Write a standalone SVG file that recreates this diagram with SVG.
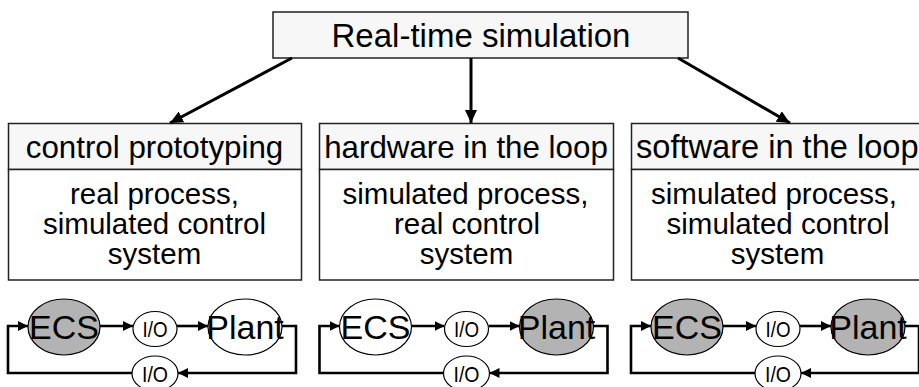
<svg xmlns="http://www.w3.org/2000/svg" width="919" height="387" viewBox="0 0 919 387">
  <defs>
    <style>
      text { font-family: "Liberation Sans", Arial, sans-serif; fill: #000; text-anchor: middle; }
      .box { fill: #ffffff; stroke: #222; stroke-width: 1.5; }
      .head { fill: #f7f7f7; stroke: #222; stroke-width: 1.5; }
      .title { font-size: 33px; }
      .htxt { font-size: 31.3px; }
      .btxt { font-size: 29.5px; }
      .big { font-size: 34px; }
      .io { font-size: 22.5px; }
      .ell { stroke: #000; stroke-width: 1.2; }
      .on { fill: #b3b3b3; }
      .off { fill: #ffffff; }
      .edge { fill: none; stroke: #000; stroke-width: 3; }
      .loop { fill: none; stroke: #000; stroke-width: 2.6; }
    </style>
    <marker id="arrowBig" markerUnits="userSpaceOnUse" markerWidth="14" markerHeight="12" refX="13" refY="6" orient="auto">
      <path d="M0,0 L13,6 L0,12 z" fill="#000"/>
    </marker>
    <marker id="arrowSmall" markerUnits="userSpaceOnUse" markerWidth="11" markerHeight="10" refX="10" refY="5" orient="auto">
      <path d="M0,0 L10,5 L0,10 z" fill="#000"/>
    </marker>
  </defs>

  <!-- root node -->
  <g id="realtime">
    <rect class="head" x="273" y="12" width="415" height="46"/>
    <text class="title" x="481" y="47">Real-time simulation</text>
  </g>

  <!-- category boxes -->
  <g id="rcp">
    <rect class="head" x="8.5" y="123.5" width="293" height="46"/>
    <rect class="box" x="8.5" y="169.5" width="293" height="110.5"/>
    <text class="htxt" x="154.5" y="158">control prototyping</text>
    <text class="btxt" x="154.5" y="204">real process,</text>
    <text class="btxt" x="154.5" y="234">simulated control</text>
    <text class="btxt" x="154.5" y="264">system</text>
  </g>
  <g id="hil">
    <rect class="head" x="319.5" y="123.5" width="294" height="46"/>
    <rect class="box" x="319.5" y="169.5" width="294" height="110.5"/>
    <text class="htxt" x="466" y="158">hardware in the loop</text>
    <text class="btxt" x="465.5" y="204">simulated process,</text>
    <text class="btxt" x="467" y="234">real control</text>
    <text class="btxt" x="466.5" y="264">system</text>
  </g>
  <g id="sil">
    <rect class="head" x="631.5" y="123.5" width="294" height="46"/>
    <rect class="box" x="631.5" y="169.5" width="294" height="110.5"/>
    <text class="htxt" x="636" y="158" style="text-anchor:start;font-size:32.6px">software in the loop</text>
    <text class="btxt" x="774" y="204">simulated process,</text>
    <text class="btxt" x="778" y="234">simulated control</text>
    <text class="btxt" x="777.5" y="264">system</text>
  </g>

  <!-- connectors -->
  <g id="connectors">
    <path class="edge" d="M292,58 L170,123" marker-end="url(#arrowBig)"/>
    <path class="edge" d="M471,58 L471,123" marker-end="url(#arrowBig)"/>
    <path class="edge" d="M678,58 L790,123" marker-end="url(#arrowBig)"/>

    <!-- loop 1 -->
    <path class="loop" d="M100,326 L133,326" marker-end="url(#arrowSmall)"/>
    <path class="loop" d="M177,326 L208,326" marker-end="url(#arrowSmall)"/>
    <path class="loop" d="M281,326 L296,326 L296,373 L178,373" marker-end="url(#arrowSmall)"/>
    <path class="loop" d="M132,373 L8,373 L8,326 L28,326" marker-end="url(#arrowSmall)"/>

    <!-- loop 2 -->
    <g transform="translate(311.5,0)">
      <path class="loop" d="M100,326 L133,326" marker-end="url(#arrowSmall)"/>
      <path class="loop" d="M177,326 L208,326" marker-end="url(#arrowSmall)"/>
      <path class="loop" d="M281,326 L296,326 L296,373 L178,373" marker-end="url(#arrowSmall)"/>
      <path class="loop" d="M132,373 L8,373 L8,326 L28,326" marker-end="url(#arrowSmall)"/>
    </g>

    <!-- loop 3 -->
    <g transform="translate(623,0)">
      <path class="loop" d="M100,326 L133,326" marker-end="url(#arrowSmall)"/>
      <path class="loop" d="M177,326 L208,326" marker-end="url(#arrowSmall)"/>
      <path class="loop" d="M281,326 L296,326 L296,373 L178,373" marker-end="url(#arrowSmall)"/>
      <path class="loop" d="M132,373 L8,373 L8,326 L28,326" marker-end="url(#arrowSmall)"/>
    </g>
  </g>

  <!-- loop 1 nodes: simulated controller, real plant -->
  <g id="ecs1"><ellipse class="ell on" cx="64" cy="327" rx="36" ry="28"/><text class="big" x="64" y="338.5">ECS</text></g>
  <g id="io1a"><ellipse class="ell off" cx="155" cy="329" rx="22" ry="17.5"/><text class="io" x="155" y="337" textLength="25" lengthAdjust="spacingAndGlyphs">I/O</text></g>
  <g id="plant1"><ellipse class="ell off" cx="245" cy="327" rx="37" ry="28"/><text class="big" x="245" y="338.5">Plant</text></g>
  <g id="io1b"><ellipse class="ell off" cx="155" cy="373.5" rx="23" ry="17.5"/><text class="io" x="155" y="381.5" textLength="26" lengthAdjust="spacingAndGlyphs">I/O</text></g>

  <!-- loop 2 nodes: real controller, simulated plant -->
  <g id="ecs2"><ellipse class="ell off" cx="375.5" cy="327" rx="36" ry="28"/><text class="big" x="375.5" y="338.5">ECS</text></g>
  <g id="io2a"><ellipse class="ell off" cx="466.5" cy="329" rx="22" ry="17.5"/><text class="io" x="466.5" y="337" textLength="25" lengthAdjust="spacingAndGlyphs">I/O</text></g>
  <g id="plant2"><ellipse class="ell on" cx="556.5" cy="327" rx="37" ry="28"/><text class="big" x="556.5" y="338.5">Plant</text></g>
  <g id="io2b"><ellipse class="ell off" cx="466.5" cy="373.5" rx="23" ry="17.5"/><text class="io" x="466.5" y="381.5" textLength="26" lengthAdjust="spacingAndGlyphs">I/O</text></g>

  <!-- loop 3 nodes: simulated controller, simulated plant -->
  <g id="ecs3"><ellipse class="ell on" cx="687" cy="327" rx="36" ry="28"/><text class="big" x="687" y="338.5">ECS</text></g>
  <g id="io3a"><ellipse class="ell off" cx="778" cy="329" rx="22" ry="17.5"/><text class="io" x="778" y="337" textLength="25" lengthAdjust="spacingAndGlyphs">I/O</text></g>
  <g id="plant3"><ellipse class="ell on" cx="868" cy="327" rx="37" ry="28"/><text class="big" x="868" y="338.5">Plant</text></g>
  <g id="io3b"><ellipse class="ell off" cx="778" cy="373.5" rx="23" ry="17.5"/><text class="io" x="778" y="381.5" textLength="26" lengthAdjust="spacingAndGlyphs">I/O</text></g>
</svg>
